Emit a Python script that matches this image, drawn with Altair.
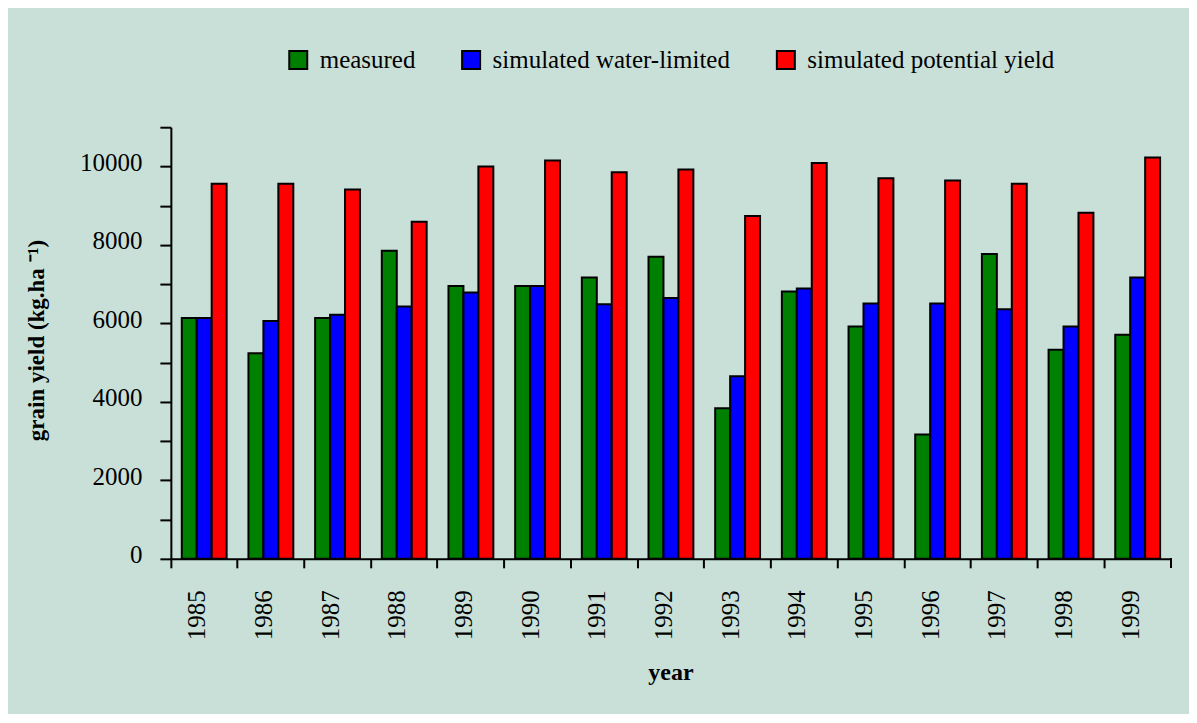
import altair as alt
import pandas as pd

years = [str(y) for y in range(1985, 2000)]
measured = [6140, 5240, 6140, 7850, 6950, 6950, 7170, 7700, 3840, 6810, 5920, 3170, 7770, 5330, 5710]
water_limited = [6140, 6060, 6220, 6430, 6790, 6950, 6490, 6650, 4650, 6890, 6510, 6510, 6360, 5920, 7170]
potential = [9560, 9560, 9410, 8590, 10000, 10150, 9850, 9920, 8740, 10090, 9700, 9640, 9560, 8820, 10230]
series = ["measured", "simulated water-limited", "simulated potential yield"]
colors = ["#008000", "#0000ff", "#ff0000"]
y_ticks = list(range(0, 11001, 1000))

rows = []
for i, yr in enumerate(years):
    for s, vals in zip(series, [measured, water_limited, potential]):
        rows.append({"year": yr, "series": s, "value": vals[i]})
df = pd.DataFrame(rows)

PLOT_W, PLOT_H = 1001, 432
FONT = "Liberation Serif"

bars = alt.Chart(df).mark_bar(stroke="black", strokeWidth=2).encode(
    x=alt.X(
        "year:N", sort=years,
        scale=alt.Scale(paddingInner=0, paddingOuter=0),
        axis=alt.Axis(
            title="year", bandPosition=0, labelAngle=270, labelAlign="right",
            labelBaseline="middle", labelFontSize=25, labelFont=FONT, labelPadding=22,
            labelOffset=-7, tickSize=9, tickWidth=2, tickColor="black",
            domainColor="black", domainWidth=2, labelColor="black",
            titleFont=FONT, titleFontSize=24, titleFontWeight="bold", titleColor="black",
            titleX=500, titleY=121, titleBaseline="alphabetic", grid=False,
        ),
    ),
    xOffset=alt.XOffset("series:N", sort=series,
                        scale=alt.Scale(paddingInner=0, paddingOuter=0.73)),
    y=alt.Y(
        "value:Q",
        scale=alt.Scale(domain=[0, 11000], nice=False, zero=True),
        axis=alt.Axis(
            title="grain yield (kg.ha ⁻¹)", values=y_ticks, format="d",
            labelExpr="datum.value % 2000 == 0 ? datum.label : ''",
            labelFontSize=25, labelFont=FONT, labelPadding=18, labelOffset=-4,
            labelColor="black", tickSize=11, tickWidth=2, tickColor="black",
            domainColor="black", domainWidth=2, grid=False,
            titleFont=FONT, titleFontSize=23, titleFontWeight="bold", titleColor="black",
            titleAngle=270, titleX=-134, titleY=213, titleBaseline="middle",
        ),
    ),
    color=alt.Color(
        "series:N", sort=series,
        scale=alt.Scale(domain=series, range=colors),
        legend=alt.Legend(
            title=None, orient="none", legendX=115, legendY=-80, direction="horizontal",
            symbolType="square", symbolSize=324, symbolStrokeColor="black",
            symbolStrokeWidth=2, symbolOpacity=1, labelFontSize=25, labelFont=FONT,
            labelColor="black", labelOffset=9, columnPadding=42, padding=0, labelLimit=500,
        ),
    ),
)

end_tick = alt.Chart(df).mark_rule(color="black", strokeWidth=2).encode(
    x=alt.value(PLOT_W), y=alt.value(PLOT_H), y2=alt.value(PLOT_H + 9)
)

chart = alt.layer(bars, end_tick).properties(
    width=PLOT_W, height=PLOT_H,
    autosize=alt.AutoSizeParams(type="none"),
    padding={"left": 163, "top": 119, "right": 18, "bottom": 155},
    background="#c9e0d9",
).configure_view(stroke=None)

chart.save("out.html", embed_options={"renderer": "svg", "actions": False})
